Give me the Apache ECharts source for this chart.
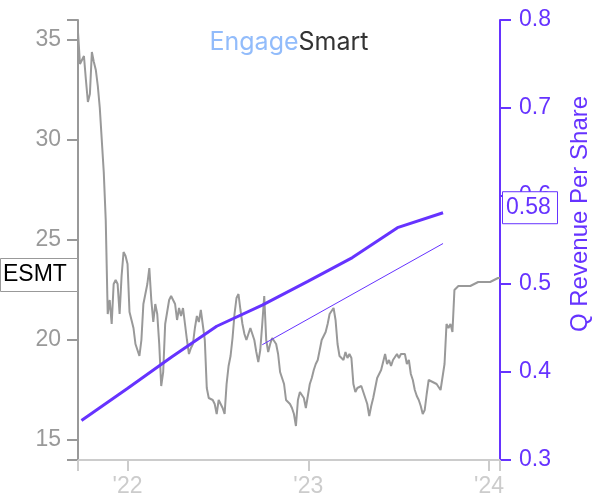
<!DOCTYPE html>
<html>
<head>
<meta charset="utf-8">
<script src="https://cdn.jsdelivr.net/npm/echarts@6/dist/echarts.min.js"></script>
<style>
  html, body { margin: 0; padding: 0; background: #fff; }
  #chart { width: 600px; height: 500px; }
</style>
</head>
<body>
<div id="chart"></div>
<script>
// ---------------- data ----------------
const ticker = 'ESMT';
const logoParts = ['Engage', 'Smart'];
const rightAxisName = 'Q Revenue Per Share';

const xStart = '2021-09-23';
const xEnd = '2024-01-23';
const yearTickDates = ['2022-01-01', '2023-01-01', '2024-01-01'];
const yearTickLabels = ["'22", "'23", "'24"];

// close prices sampled every 4 calendar days from priceStart
const priceStart = '2021-09-23';
const priceStepDays = 4;
const prices = [
  35.4, 33.8, 33.9, 34.2, 33.0, 31.9, 32.3, 34.4, 33.9, 33.5,
  32.7, 31.6, 31.6, 28.4, 26.0, 21.3, 22.0, 20.8, 22.8, 23.0,
  22.8, 21.3, 23.2, 24.4, 24.2, 23.8, 21.4, 21.0, 20.6, 19.8,
  19.5, 19.2, 20.0, 21.8, 22.3, 22.8, 23.6, 22.0, 20.9, 21.8,
  21.3, 19.8, 17.7, 18.4, 20.8, 21.4, 22.0, 22.2, 22.0, 21.8,
  21.0, 21.6, 21.2, 21.6, 20.8, 20.0, 19.3, 19.6, 19.8, 20.6,
  21.2, 20.9, 21.5, 21.6, 20.0, 17.6, 17.1, 17.2, 17.0, 16.8,
  16.3, 17.0, 17.0, 16.6, 16.3, 17.8, 18.7, 19.2, 20.1, 21.3,
  22.1, 22.3, 21.5, 20.8, 20.3, 20.0, 19.9, 20.6, 20.6, 20.0,
  19.4, 18.9, 19.5, 20.8, 22.2, 20.0, 19.4, 19.8, 20.1, 20.2,
  19.8, 19.3, 18.4, 18.1, 17.8, 17.0, 16.9, 16.8, 16.6, 16.3,
  15.7, 17.0, 17.4, 17.5, 17.1, 16.6, 17.2, 17.8, 18.1, 18.5,
  18.8, 19.0, 19.5, 20.0, 20.1, 20.4, 20.8, 21.3, 21.4, 21.6,
  21.0, 19.8, 19.2, 19.1, 19.0, 19.4, 19.1, 19.3, 19.1, 17.8,
  17.4, 17.6, 17.5, 17.7, 17.4, 17.1, 16.8, 16.2, 16.7, 17.1,
  17.6, 18.1, 18.3, 18.5, 18.9, 19.3, 18.8, 19.0, 18.7, 19.0,
  19.0, 19.3, 19.1, 19.3, 19.2, 19.3, 18.8, 19.0, 18.3, 18.0,
  17.5, 17.2, 17.0, 16.7, 16.3, 16.5, 17.3, 18.0, 18.1, 17.9,
  18.0, 17.8, 17.8, 17.5, 17.6, 18.8, 20.8, 20.6, 20.8, 20.4,
  22.5, 22.6, 22.7, 22.6, 22.7, 22.8, 22.7, 22.8, 22.7, 22.8,
  22.8, 22.8, 22.9, 22.8, 22.9, 22.9, 22.9, 22.9, 22.9, 23.0,
  23.0, 23.0, 23.1, 23.1
];

const revDates = ['2021-09-30', '2021-12-31', '2022-03-31', '2022-06-30', '2022-09-30',
                  '2022-12-31', '2023-03-31', '2023-06-30', '2023-09-30'];
const revValues = [0.345, 0.381, 0.417, 0.452, 0.476, 0.503, 0.530, 0.564, 0.581];

const trendDates = ['2022-09-30', '2023-09-30'];
const trendValues = [0.431, 0.546];

const leftTicks = [15, 20, 25, 30, 35];
const leftMin = 14, leftMax = 36;
const rightMin = 0.3, rightMax = 0.8, rightStep = 0.1;

// ---------------- helpers ----------------
const t = d => Date.parse(d + 'T00:00:00Z');
const DAY = 86400000;
const priceData = prices.map((p, i) => [t(priceStart) + i * priceStepDays * DAY, p]);
const revData = revDates.map((d, i) => [t(d), revValues[i]]);
const trendData = trendDates.map((d, i) => [t(d), trendValues[i]]);
const yearTicks = yearTickDates.map(t);

const PURPLE = '#6633ff';
const GRAY = '#999999';
const LIGHT = '#cccccc';
const FONT = 'Liberation Sans, Arial, sans-serif';

const chart = echarts.init(document.getElementById('chart'), null, { renderer: 'canvas' });

chart.setOption({
  animation: false,
  backgroundColor: '#ffffff',
  grid: { left: 78, right: 100, top: 20, bottom: 40, containLabel: false },
  xAxis: {
    type: 'value',
    min: t(xStart),
    max: t(xEnd),
    axisLine: { show: true, lineStyle: { color: LIGHT, width: 2 } },
    axisTick: { show: true, customValues: [t(xStart)].concat(yearTicks, [t(xEnd)]), length: 11, lineStyle: { color: LIGHT, width: 2 } },
    axisLabel: {
      customValues: yearTicks,
      formatter: v => yearTickLabels[yearTicks.indexOf(v)] || '',
      color: LIGHT, fontSize: 23, fontFamily: FONT, margin: 15
    },
    splitLine: { show: false }
  },
  yAxis: [
    {
      type: 'value', position: 'left', min: leftMin, max: leftMax,
      axisLine: { show: true, lineStyle: { color: GRAY, width: 2 } },
      axisTick: { show: true, customValues: [leftMin].concat(leftTicks, [leftMax]), length: 11, lineStyle: { color: GRAY, width: 2 } },
      axisLabel: { customValues: leftTicks, color: GRAY, fontSize: 23, fontFamily: FONT, margin: 17 },
      splitLine: { show: false }
    },
    {
      type: 'value', position: 'right', min: rightMin, max: rightMax, interval: rightStep,
      axisLine: { show: true, lineStyle: { color: PURPLE, width: 2 } },
      axisTick: { show: true, length: 11, lineStyle: { color: PURPLE, width: 2 } },
      axisLabel: { color: PURPLE, fontSize: 23, fontFamily: FONT, margin: 19, formatter: v => (+v).toFixed(1) },
      splitLine: { show: false }
    }
  ],
  series: [
    {
      name: 'price', type: 'line', yAxisIndex: 0, data: priceData,
      showSymbol: false, symbol: 'none', lineStyle: { color: GRAY, width: 2 }, z: 2
    },
    {
      name: 'rev', type: 'line', yAxisIndex: 1, data: revData,
      showSymbol: false, symbol: 'none', lineStyle: { color: PURPLE, width: 3 }, z: 3
    },
    {
      name: 'trend', type: 'line', yAxisIndex: 1, data: trendData,
      showSymbol: false, symbol: 'none', lineStyle: { color: PURPLE, width: 1 }, z: 3
    }
  ]
});

// boxes positioned through the chart's own scales
const lastPrice = priceData[priceData.length - 1];
const lastRev = revData[revData.length - 1];
const yPrice = chart.convertToPixel({ yAxisIndex: 0 }, lastPrice[1]) - 3;
const yRev = chart.convertToPixel({ yAxisIndex: 1 }, lastRev[1]) - 5;

chart.setOption({
  graphic: [
    {
      type: 'text', x: 289, y: 30, z: 10,
      style: {
        text: '{a|' + logoParts[0] + '}{b|' + logoParts[1] + '}',
        textAlign: 'center',
        rich: {
          a: { fill: '#92bcfb', fontSize: 25, fontFamily: 'Inter, Roboto, sans-serif' },
          b: { fill: '#333333', fontSize: 25, fontFamily: 'Inter, Roboto, sans-serif' }
        }
      }
    },
    {
      type: 'group', x: 0, y: yPrice, z: 100, zlevel: 1,
      children: [
        { type: 'rect', z: 100, zlevel: 1, shape: { x: 0.5, y: -16.5, width: 77, height: 33 }, style: { fill: '#fff', stroke: GRAY, lineWidth: 1 } },
        { type: 'text', z: 101, zlevel: 1, x: 3, y: 0, style: { text: ticker, fill: '#000', fontSize: 23, fontFamily: FONT, textAlign: 'left', textVerticalAlign: 'middle' } }
      ]
    },
    {
      type: 'group', x: 502, y: yRev, z: 100, zlevel: 1,
      children: [
        { type: 'rect', z: 100, zlevel: 1, shape: { x: 0.5, y: -16, width: 55, height: 32 }, style: { fill: '#fff', stroke: PURPLE, lineWidth: 1 } },
        { type: 'text', z: 101, zlevel: 1, x: 4, y: 0, style: { text: revValues[revValues.length - 1].toFixed(2), fill: PURPLE, fontSize: 23, fontFamily: FONT, textAlign: 'left', textVerticalAlign: 'middle' } }
      ]
    },
    {
      type: 'text', x: 580, y: 214, rotation: Math.PI / 2, z: 10,
      style: { text: rightAxisName, fill: PURPLE, fontSize: 24, fontFamily: FONT, textAlign: 'center', textVerticalAlign: 'middle' }
    }
  ]
});
</script>
</body>
</html>
